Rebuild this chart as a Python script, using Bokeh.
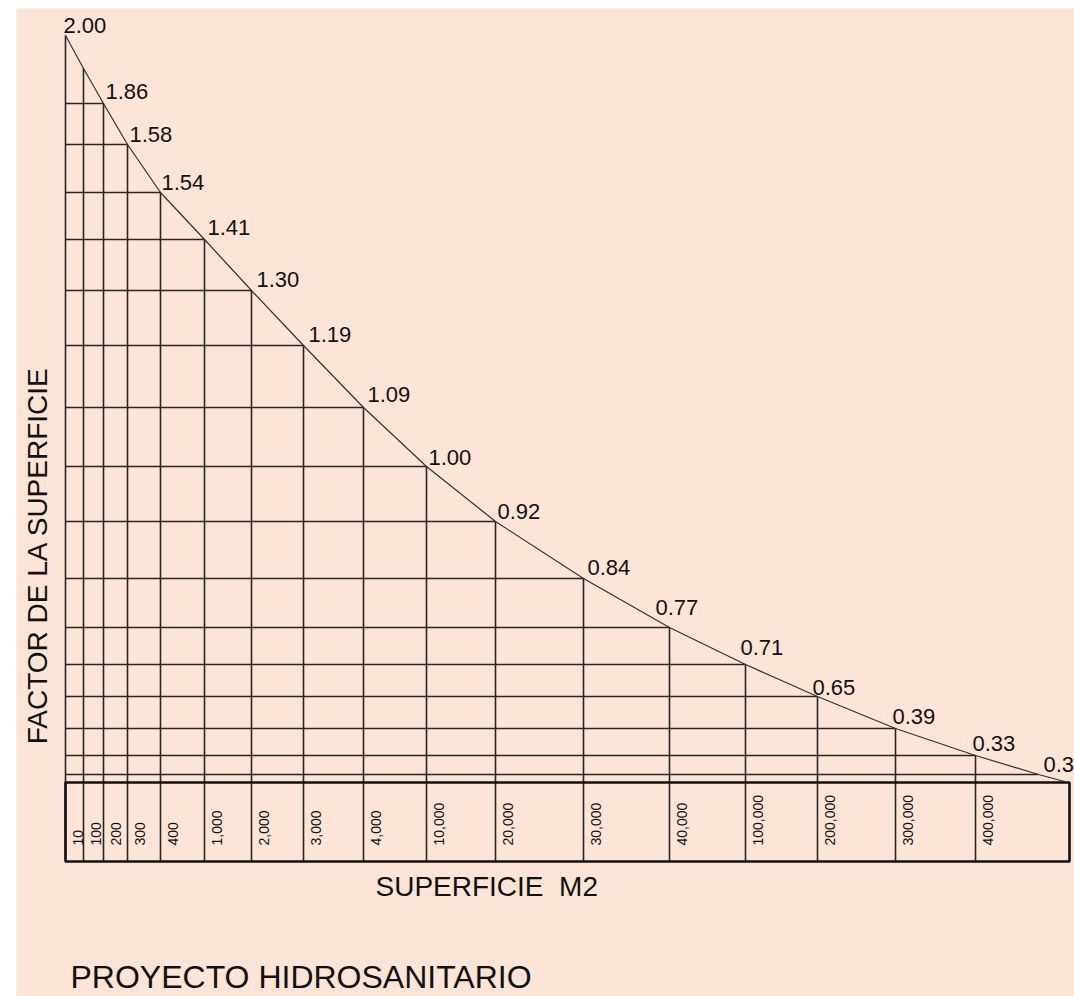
from bokeh.plotting import figure
from bokeh.models import Range1d
from bokeh.core.properties import value
from bokeh.embed import file_html
from bokeh.resources import INLINE
import math

# ---------------- data ----------------
superficie_m2 = ["10", "100", "200", "300", "400", "1,000", "2,000", "3,000", "4,000",
                 "10,000", "20,000", "30,000", "40,000", "100,000", "200,000",
                 "300,000", "400,000"]
factor_superficie = ["2.00", "1.86", "1.58", "1.54", "1.41", "1.30", "1.19", "1.09",
                     "1.00", "0.92", "0.84", "0.77", "0.71", "0.65", "0.39", "0.33", "0.3"]

# ---------------- drawing layout (schematic, not to scale) ----------------
col_edges = [65, 83, 103, 127, 160, 204, 251, 303, 363, 426, 495, 583, 669, 745,
             817, 895, 975, 1069]
# curve height at each column edge (0..16), then the 0.3 node and curve end
node_x = col_edges[:17] + [1038, 1064]
node_y = [35, 68, 103, 144, 192, 239, 290, 345, 407, 466, 521, 578, 627, 664, 696,
          728, 755, 774, 781]
label_nodes = [0, 2, 3, 4, 5, 6, 7, 8, 9, 10, 11, 12, 13, 14, 15, 16, 17]
label_dx = [-2, 2, 2, 1, 3, 5, 5, 4, 2, 2, 4, -14, -5, -5, -3, -3, 5]
label_dy = [-2, -4, -2, -2, -4, -3, -3, -5, -1, -2, -3, -12, -9, -1, -4, -4, -2]
box_top, box_bottom = 782, 861

BG = "#FCE4D6"
INK = "#262626"

p = figure(width=1074, height=996, output_backend="svg", toolbar_location=None,
           x_range=Range1d(16, 1074), y_range=Range1d(996, 8),
           x_axis_location=None, y_axis_location=None,
           min_border_left=16, min_border_right=0, min_border_top=8, min_border_bottom=0,
           background_fill_color=BG, border_fill_color="white")
p.grid.visible = False
p.outline_line_color = None

# horizontal grid lines: from left edge to each curve node
hx0, hx1, hy = [], [], []
for i in range(2, 18):
    hx0.append(col_edges[0]); hx1.append(node_x[i]); hy.append(node_y[i])
p.segment(x0=hx0, y0=hy, x1=hx1, y1=hy, line_color=INK, line_width=1.6)

# vertical grid lines: from curve node down to the bottom of the box
vx, vy0, vy1 = [], [], []
for i in range(1, 17):
    vx.append(col_edges[i]); vy0.append(node_y[i]); vy1.append(box_bottom)
p.segment(x0=vx, y0=vy0, x1=vx, y1=vy1, line_color=INK, line_width=1.6)

# left edge
p.segment(x0=[col_edges[0]], y0=[node_y[0]], x1=[col_edges[0]], y1=[box_bottom],
          line_color=INK, line_width=1.6)

# curve
p.line(node_x, node_y, line_color="#333333", line_width=1.2)

# box with superficie values
p.quad(left=[col_edges[0]], right=[col_edges[-1]], top=[box_top], bottom=[box_bottom],
       fill_color=None, line_color="#111111", line_width=2.6)

# factor labels (y given as the vertical centre of the digits)
lx = [node_x[n] + d for n, d in zip(label_nodes, label_dx)]
ly = [node_y[n] + d - 8 for n, d in zip(label_nodes, label_dy)]
p.text(x=lx, y=ly, text=factor_superficie, text_font=value("Liberation Sans"),
       text_font_size="22px", text_color="#111111", text_align="left",
       text_baseline="middle")

# superficie labels (rotated)
sx = [col_edges[i] + 12 for i in range(17)]
sy = [845] * 17
p.text(x=sx, y=sy, text=superficie_m2, angle=math.pi / 2,
       text_font=value("Liberation Sans"), text_font_size="14px",
       text_color="#111111", text_align="left", text_baseline="middle")

# titles
p.text(x=[37], y=[555], text=["FACTOR DE LA SUPERFICIE"], angle=math.pi / 2,
       text_font=value("Liberation Sans"), text_font_size="28px", text_color="#111111",
       text_align="center", text_baseline="middle")
p.text(x=[375], y=[886], text=["SUPERFICIE\u00a0 M2"],
       text_font=value("Liberation Sans"), text_font_size="28px", text_color="#111111",
       text_align="left", text_baseline="middle")
p.text(x=[70], y=[976], text=["PROYECTO HIDROSANITARIO"],
       text_font=value("Liberation Sans"), text_font_size="32px", text_color="#111111",
       text_align="left", text_baseline="middle")

open("out.html", "w").write(file_html(p, INLINE))
